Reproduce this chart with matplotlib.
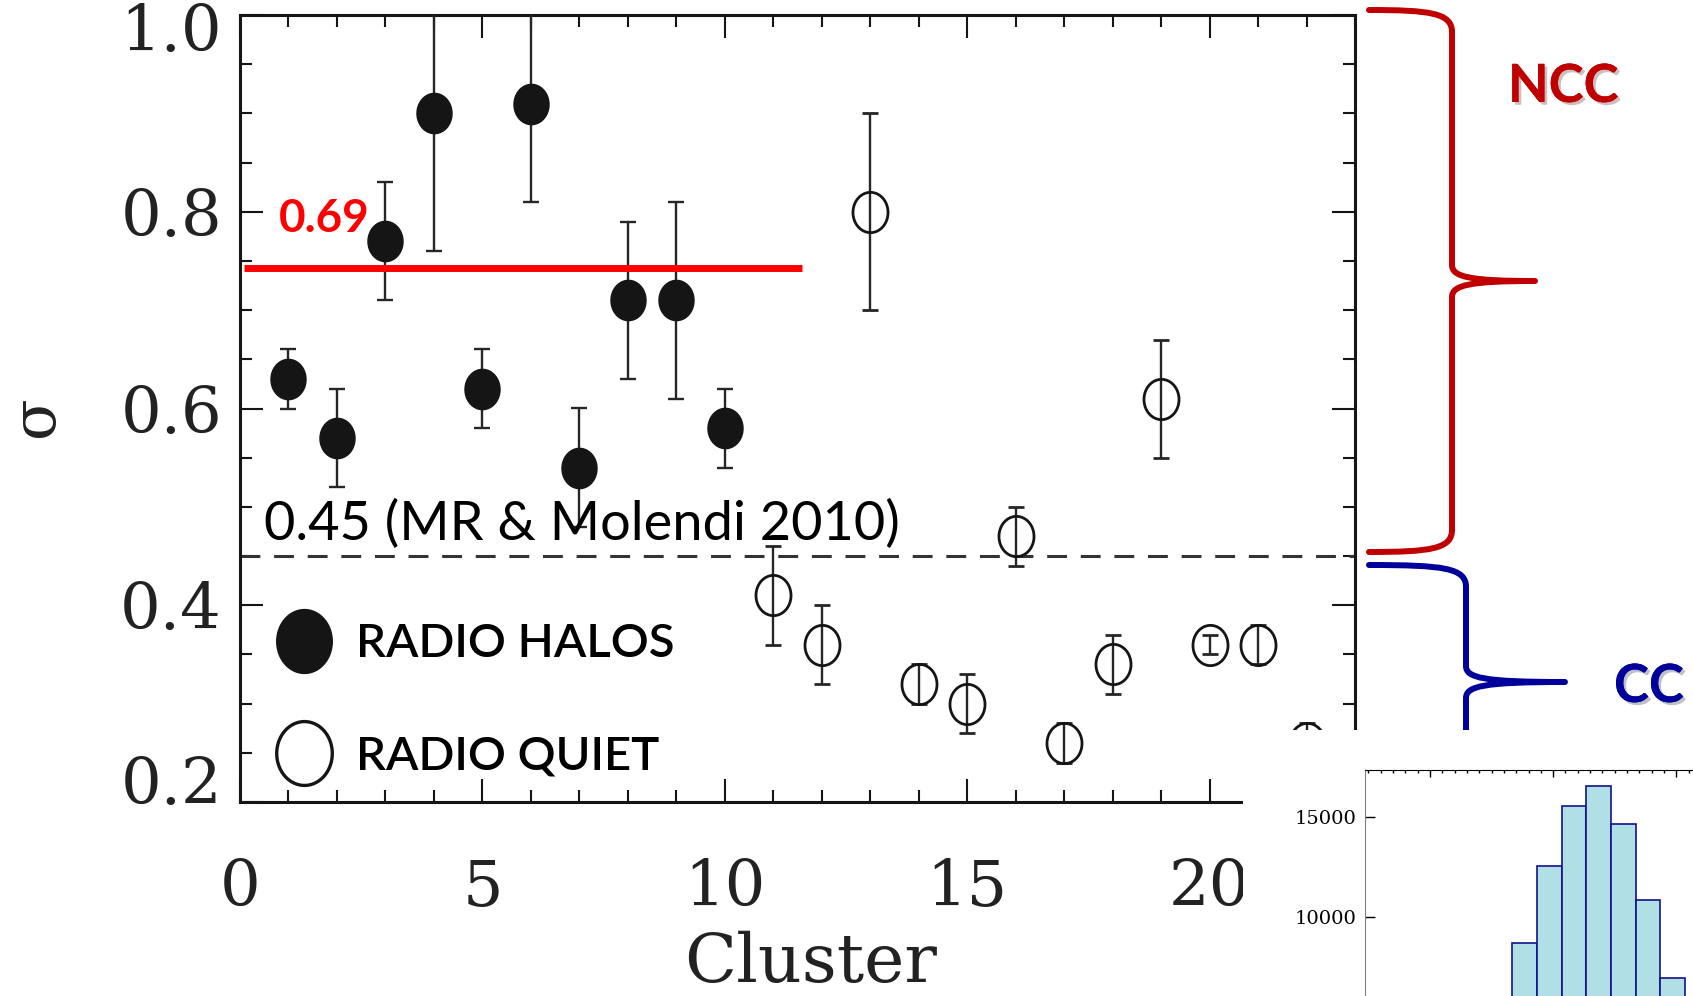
import numpy as np
import matplotlib
matplotlib.use("Agg")
import matplotlib.pyplot as plt
import matplotlib.patheffects as pe
import matplotlib.transforms as mtransforms
from matplotlib.path import Path
from matplotlib.patches import PathPatch, Rectangle
from matplotlib.lines import Line2D
from matplotlib.ticker import MultipleLocator, FormatStrFormatter

plt.rcParams['font.family'] = ['DejaVu Serif']

# radio halo clusters (filled symbols)
halo_id = [1, 2, 3, 4, 5, 6, 7, 8, 9, 10]
halo_sigma = [0.63, 0.57, 0.77, 0.90, 0.62, 0.91, 0.54, 0.71, 0.71, 0.58]
halo_err = [0.03, 0.05, 0.06, 0.14, 0.04, 0.10, 0.06, 0.08, 0.10, 0.04]

# radio quiet clusters (open symbols)
quiet_id = [11, 12, 13, 14, 15, 16, 17, 18, 19, 20, 21, 22]
quiet_sigma = [0.41, 0.36, 0.80, 0.32, 0.30, 0.47, 0.26, 0.34, 0.61, 0.36, 0.36, 0.26]
quiet_err = [0.05, 0.04, 0.10, 0.02, 0.03, 0.03, 0.02, 0.03, 0.06, 0.01, 0.02, 0.02]

mean_level = 0.743
mean_xmin, mean_xmax = 0.08, 11.6
mean_label = "0.69"
threshold = 0.45
threshold_label = "0.45 (MR & Molendi 2010)"
legend_labels = ["RADIO HALOS", "RADIO QUIET"]

# inset histogram (x labels are cut off in the picture)
hist_left = [0.67, 0.87, 1.07, 1.27, 1.47, 1.67, 1.87]
hist_counts = [8740, 12560, 15530, 16510, 14650, 10840, 6970]
hist_width = 0.2

W, H = 1693, 996
fig = plt.figure(figsize=(W / 100, H / 100), dpi=100)


def px(x, y):
    # pixel position (from top-left) -> figure fraction
    return (x / W, 1 - y / H)


# slightly tall ellipse, like the stretched scan
t = np.linspace(0, 2 * np.pi, 73)
ell = Path(np.column_stack([0.87 * np.cos(t), np.sin(t)]), closed=True)

ink = '#151515'
ax = fig.add_axes([240 / W, 1 - 802 / H, (1355 - 240) / W, (802 - 15) / H])

ax.errorbar(halo_id, halo_sigma, yerr=halo_err, ls='none', marker=ell, ms=29,
            mfc=ink, mec=ink, ecolor='#262626', elinewidth=1.7, capsize=6,
            capthick=1.7, zorder=3)
ax.errorbar(quiet_id, quiet_sigma, yerr=quiet_err, ls='none', marker=ell, ms=29,
            mfc='none', mec=ink, mew=2.0, ecolor='#262626', elinewidth=1.7,
            capsize=6, capthick=1.7, zorder=3)

ax.axhline(threshold, color='#333', lw=2.2, dashes=(6.5, 4.5), zorder=2)
ax.hlines(mean_level, mean_xmin, mean_xmax, color='#ff0000', lw=5, zorder=4)

ax.text(0.80, 0.779, mean_label, color='#ff0000', fontsize=33, family='Lato',
        weight='bold', va='baseline', ha='left', zorder=5)
ax.text(0.505, 0.466, threshold_label, color='black', fontsize=39, family='Lato',
        va='baseline', ha='left', zorder=5)

ax.set_xlim(0, 23)
ax.set_ylim(0.2, 1.0)
ax.xaxis.set_major_locator(MultipleLocator(5))
ax.xaxis.set_minor_locator(MultipleLocator(1))
ax.set_yticks([0.2, 0.4, 0.6, 0.8, 1.0])
ax.yaxis.set_major_formatter(FormatStrFormatter('%.1f'))
ax.yaxis.set_minor_locator(MultipleLocator(0.05))
ax.tick_params(which='both', direction='in', top=True, right=True, width=1.5,
               color=ink, labelcolor='#222')
ax.tick_params(which='major', length=16.5)
ax.tick_params(which='minor', length=8.5)
ax.tick_params(axis='x', labelsize=46, pad=40)
ax.tick_params(axis='y', labelsize=46, pad=13)
for s in ax.spines.values():
    s.set_linewidth(2.2)
    s.set_color(ink)

# the scan puts the end labels a little inside the axis
yt = ax.yaxis.get_major_ticks()
yt[0].label1.set_transform(yt[0].label1.get_transform() +
                           mtransforms.ScaledTranslation(0, 0.22, fig.dpi_scale_trans))
yt[-1].label1.set_transform(yt[-1].label1.get_transform() +
                            mtransforms.ScaledTranslation(0, -0.12, fig.dpi_scale_trans))

ax.set_xlabel('Cluster', fontsize=49, color='#222')
ax.xaxis.set_label_coords(0.512, -0.164)
fig.text(36 / W, 1 - 416 / H, 'σ', rotation=90, fontsize=44, color='#222',
         ha='center', va='center')

handles = [Line2D([], [], ls='none', marker=ell, ms=46, mfc=ink, mec=ink),
           Line2D([], [], ls='none', marker=ell, ms=46, mfc='none', mec=ink, mew=2.4)]
ax.legend(handles, legend_labels, loc='upper left', bbox_to_anchor=(0.036, 0.227),
          frameon=False, prop={'family': 'Lato', 'size': 34, 'weight': 'semibold'},
          handlelength=1.0, handletextpad=0.6, labelspacing=1.48, borderpad=0,
          borderaxespad=0)


def brace(x_end, x_vert, x_tip, y_top, y_tip, y_bot, color):
    pts = [(x_end, y_top), (x_vert - 22, y_top), (x_vert, y_top + 3), (x_vert, y_top + 22),
           (x_vert, y_tip - 16),
           (x_vert, y_tip - 4), (x_vert + 18, y_tip), (x_tip, y_tip),
           (x_vert + 18, y_tip), (x_vert, y_tip + 4), (x_vert, y_tip + 16),
           (x_vert, y_bot - 22),
           (x_vert, y_bot - 3), (x_vert - 22, y_bot), (x_end, y_bot)]
    codes = [Path.MOVETO, Path.CURVE4, Path.CURVE4, Path.CURVE4, Path.LINETO,
             Path.CURVE4, Path.CURVE4, Path.CURVE4, Path.CURVE4, Path.CURVE4, Path.CURVE4,
             Path.LINETO, Path.CURVE4, Path.CURVE4, Path.CURVE4]
    p = PathPatch(Path([px(*q) for q in pts], codes), transform=fig.transFigure,
                  fill=False, edgecolor=color, lw=4.3, capstyle='round',
                  joinstyle='round', zorder=1)
    fig.patches.append(p)


brace(1369, 1452, 1535, 10, 281, 552, '#c00000')
brace(1369, 1466, 1565, 565, 682, 900, '#00009a')

shadow = [pe.withSimplePatchShadow(offset=(2, -2), alpha=0.25), pe.Normal()]
fig.text(*px(1508, 102), 'NCC', color='#c00000', fontsize=38, family='Lato',
         weight='bold', va='baseline', ha='left', path_effects=shadow)
fig.text(*px(1614, 702), 'CC', color='#00009a', fontsize=38, family='Lato',
         weight='bold', va='baseline', ha='left', path_effects=shadow)

# white panel with the pasted histogram
fig.patches.append(Rectangle(px(1243, 996), (W - 1243) / W, (996 - 730) / H,
                             transform=fig.transFigure, facecolor='white',
                             edgecolor='none', zorder=2))
ins = fig.add_axes([1365 / W, 1 - 1118.5 / H, 373 / W, (1118.5 - 770) / H], zorder=3)
ins.bar(hist_left, hist_counts, width=hist_width, align='edge', color='#b0e0e6',
        edgecolor='#12128c', linewidth=1.2)
ins.set_xlim(-0.527, 2.5)
ins.set_ylim(0, 17320)
ins.set_yticks([10000, 15000])
ins.xaxis.set_major_locator(MultipleLocator(1))
ins.xaxis.set_minor_locator(MultipleLocator(0.1))
ins.tick_params(axis='x', which='both', direction='in', top=True, bottom=False,
                labeltop=False, labelbottom=False, color='black', width=1)
ins.tick_params(axis='x', which='major', length=5)
ins.tick_params(axis='x', which='minor', length=2.5)
ins.tick_params(axis='y', direction='in', length=7, width=1, labelsize=14, pad=6)
ins.spines['left'].set_color('#808080')
ins.spines['top'].set_color('black')

fig.savefig('out.png', dpi=100)
